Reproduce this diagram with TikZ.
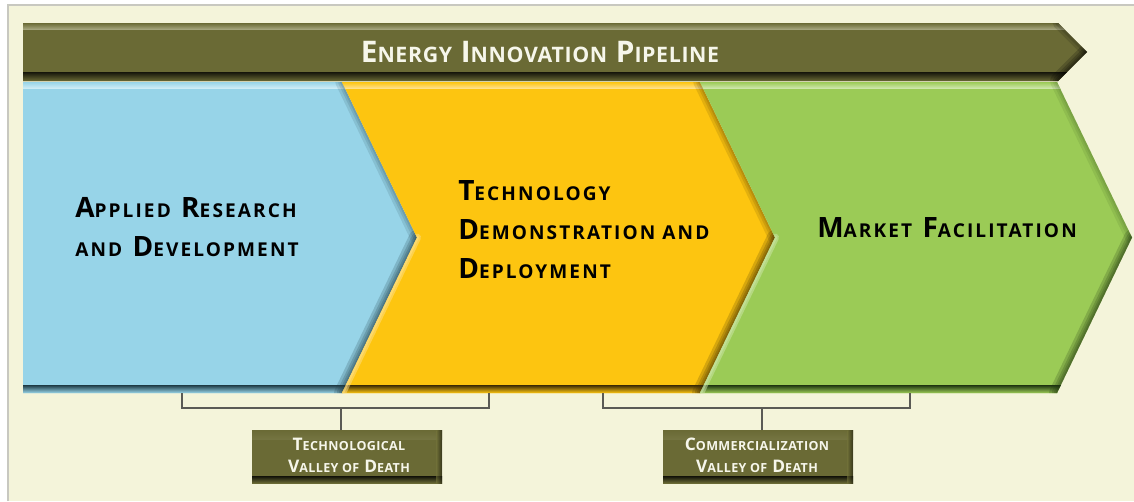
\documentclass[tikz,border=0pt]{standalone}
\usepackage{fontspec}
\newfontfamily\lf[LetterSpace=11]{Open Sans}
\newfontfamily\tf[LetterSpace=3]{Open Sans}
\definecolor{cream}{HTML}{F4F4DA}
\definecolor{frame}{HTML}{C8C8C0}
\definecolor{olive}{HTML}{6A6A35}
\definecolor{olvlight}{HTML}{A4A47C}
\definecolor{olvdark}{HTML}{15150A}
\definecolor{bmain}{HTML}{97D4E8}
\definecolor{blight}{HTML}{CDECF5}
\definecolor{bdark}{HTML}{1E3A44}
\definecolor{ymain}{HTML}{FDC510}
\definecolor{ylight}{HTML}{FEE08A}
\definecolor{ydark}{HTML}{3A2A05}
\definecolor{gmain}{HTML}{9BCB56}
\definecolor{glight}{HTML}{CDE6AA}
\definecolor{gdark}{HTML}{1E3410}
\definecolor{brk}{HTML}{5A5A55}
\definecolor{paletext}{HTML}{F6F6EA}
\newcommand\sm[1]{{\fontsize{\smsz}{\baselineskip}\selectfont #1}}
% y axis is flipped in the picture, so a shading's "bottom color" shows at the visual top
\tikzset{
  vis top/.style={bottom color=#1},
  vis bottom/.style={top color=#1},
  chevtext/.style={font=\lf\bfseries\fontsize{21}{29.25}\selectfont\def\smsz{14.3}, align=left, inner sep=0pt, text=black, anchor=west},
  titletext/.style={font=\tf\bfseries\fontsize{22.3}{26}\selectfont\def\smsz{16}, inner sep=0pt, text=paletext},
  valleytext/.style={font=\tf\bfseries\fontsize{13}{16.5}\selectfont\def\smsz{9.4}, align=center, inner sep=0pt, text=paletext},
  valleybox/.style={fill=olive, minimum width=142.5pt, minimum height=39.75pt, inner sep=0pt,
    path picture={
      \shade[vis top=olvlight, vis bottom=olive] (path picture bounding box.north west) rectangle ([yshift=-7pt]path picture bounding box.north east);
      \shade[vis top=olive, vis bottom=olvdark] ([yshift=5pt]path picture bounding box.south west) rectangle (path picture bounding box.south east);
      \shade[left color=olive, right color=olvdark, opacity=0.6] ([xshift=-4pt]path picture bounding box.north east) rectangle (path picture bounding box.south east);
    }},
  bracket/.style={draw=brk, line width=1.3pt},
  sh/.style={line cap=round, line join=round, opacity=0.13},
}
\begin{document}
\begin{tikzpicture}[x=0.75pt,y=-0.75pt]
\useasboundingbox (0,0) rectangle (1134,501);
\fill[white] (0,0) rectangle (1134,501);
\fill[cream] (8,5) rectangle (1134,501);
\draw[frame, line width=1.2pt] (8,501) -- (8,5) -- (1134,5);

% banner
\begin{scope}
  \clip (23,23) -- (1058,23) -- (1087,52) -- (1058,81) -- (23,81) -- cycle;
  \fill[olive] (20,20) rectangle (1090,84);
  \shade[vis top=olvlight, vis bottom=olive] (20,23) rectangle (1090,29);
  \shade[vis top=olive, vis bottom=olvdark] (20,72) rectangle (1090,81);
  \foreach \w in {12,8,5,2.5} \draw[sh, black, opacity=0.18, line width=\w pt] (1087,52) -- (1058,81);
  \foreach \w in {8,4} \draw[sh, black, line width=\w pt] (1058,23) -- (1087,52);
\end{scope}
\node[titletext] (title) at (540,52) {E\sm{NERGY} I\sm{NNOVATION} P\sm{IPELINE}};

% blue chevron
\begin{scope}
  \clip (23,82) -- (342,82) -- (417,237.5) -- (342,393) -- (23,393) -- cycle;
  \fill[bmain] (20,80) rectangle (420,395);
  \shade[vis top=blight, vis bottom=bmain] (20,82) rectangle (420,88);
  \shade[vis top=bmain, vis bottom=bdark] (20,385) rectangle (420,393);
  \foreach \w in {10,6,3} \draw[sh, bdark, line width=\w pt] (342,82) -- (417,237.5);
  \foreach \w in {12,8,5,2.5} \draw[sh, bdark, opacity=0.2, line width=\w pt] (417,237.5) -- (342,393);
\end{scope}

% yellow chevron
\begin{scope}
  \clip (342,82) -- (700,82) -- (775,237.5) -- (700,393) -- (342,393) -- (417,237.5) -- cycle;
  \fill[ymain] (340,80) rectangle (780,395);
  \shade[vis top=ylight, vis bottom=ymain] (340,82) rectangle (780,88);
  \shade[vis top=ymain, vis bottom=ydark] (340,385) rectangle (780,393);
  \foreach \w in {10,6,3} \draw[sh, ydark, line width=\w pt] (700,82) -- (775,237.5);
  \foreach \w in {12,8,5,2.5} \draw[sh, ydark, opacity=0.2, line width=\w pt] (775,237.5) -- (700,393);
  \foreach \w in {6,3} \draw[sh, ylight, opacity=0.5, line width=\w pt] (417,237.5) -- (342,393);
\end{scope}

% green chevron
\begin{scope}
  \clip (700,82) -- (1057,82) -- (1132,237.5) -- (1057,393) -- (700,393) -- (775,237.5) -- cycle;
  \fill[gmain] (698,80) rectangle (1134,395);
  \shade[vis top=glight, vis bottom=gmain] (698,82) rectangle (1134,88);
  \shade[vis top=gmain, vis bottom=gdark] (698,385) rectangle (1134,393);
  \foreach \w in {10,6,3} \draw[sh, gdark, opacity=0.09, line width=\w pt] (1057,82) -- (1132,237.5);
  \foreach \w in {12,8,5,2.5} \draw[sh, gdark, opacity=0.2, line width=\w pt] (1132,237.5) -- (1057,393);
  \foreach \w in {6,3} \draw[sh, glight, opacity=0.5, line width=\w pt] (775,237.5) -- (700,393);
\end{scope}

% chevron texts
\node[chevtext] (ard) at (75,227) {A\sm{PPLIED} R\sm{ESEARCH}\\\sm{AND} D\sm{EVELOPMENT}};
\node[chevtext] (tdd) at (458,230) {T\sm{ECHNOLOGY}\\D\sm{EMONSTRATION AND}\\D\sm{EPLOYMENT}};
\node[chevtext] (mf) at (817,227.5) {M\sm{ARKET} F\sm{ACILITATION}};

% valley boxes
\node[valleybox] (tvd) at (347,456.5) {};
\node[valleytext] (tvdt) at (349,455) {T\sm{ECHNOLOGICAL}\\V\sm{ALLEY OF} D\sm{EATH}};
\node[valleybox] (cvd) at (758,456.5) {};
\node[valleytext] (cvdt) at (757,455) {C\sm{OMMERCIALIZATION}\\V\sm{ALLEY OF} D\sm{EATH}};

% brackets
\coordinate (b1l) at (182,393);
\coordinate (b1r) at (489,393);
\coordinate (b1s) at (341,408);
\coordinate (b2l) at (603,393);
\coordinate (b2r) at (910,393);
\coordinate (b2s) at (762,408);
\draw[bracket] (b1l) -- (b1l |- b1s) -- (b1r |- b1s) -- (b1r);
\draw[bracket] (b1s) -- (b1s |- tvd.north);
\draw[bracket] (b2l) -- (b2l |- b2s) -- (b2r |- b2s) -- (b2r);
\draw[bracket] (b2s) -- (b2s |- cvd.north);
\end{tikzpicture}
\end{document}
